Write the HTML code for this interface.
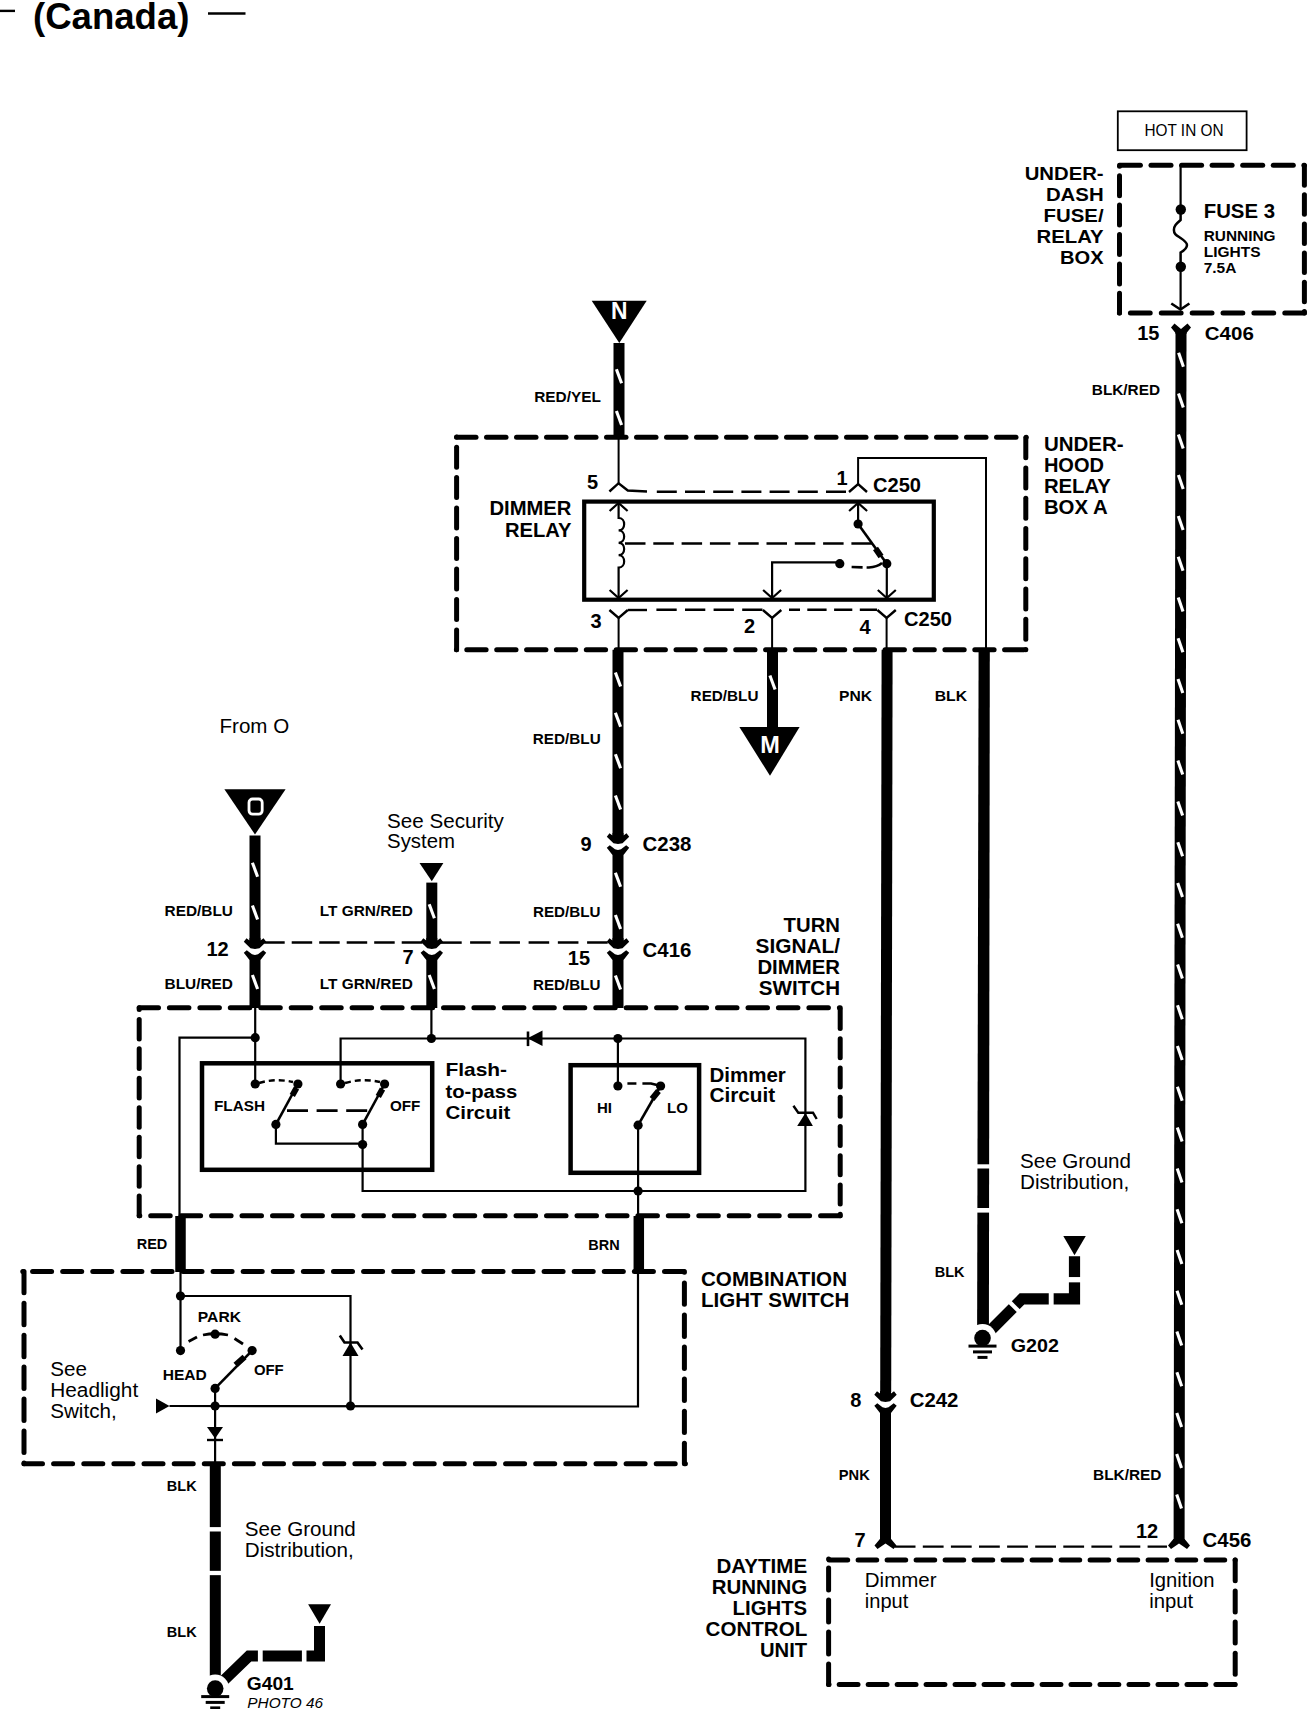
<!DOCTYPE html><html><head><meta charset="utf-8"><style>html,body{margin:0;padding:0;background:#fff;}svg{display:block;font-family:"Liberation Sans",sans-serif;}</style></head><body>
<svg width="1308" height="1709" viewBox="0 0 1308 1709" stroke="#000" fill="none">
<line x1="0" y1="10.9" x2="15" y2="10.9" stroke-width="2.4" />
<text x="33" y="28.8" font-size="36" font-weight="bold" text-anchor="start" fill="#000" stroke="none" textLength="156.5" lengthAdjust="spacingAndGlyphs">(Canada)</text>
<line x1="208" y1="13.5" x2="245.5" y2="13.5" stroke-width="2.4" />
<rect x="1117.8" y="111.3" width="128.79999999999995" height="38.89999999999999" stroke-width="1.8" fill="none" />
<text x="1144.5" y="136.4" font-size="16.2" font-weight="normal" text-anchor="start" fill="#000" stroke="none" textLength="79" lengthAdjust="spacingAndGlyphs">HOT IN ON</text>
<line x1="1120.4" y1="165.2" x2="1140.4" y2="165.2" stroke-width="5" stroke-linecap="round"/>
<line x1="1151.0" y1="165.2" x2="1171.0" y2="165.2" stroke-width="5" stroke-linecap="round"/>
<line x1="1181.6" y1="165.2" x2="1201.6" y2="165.2" stroke-width="5" stroke-linecap="round"/>
<line x1="1212.1" y1="165.2" x2="1232.1" y2="165.2" stroke-width="5" stroke-linecap="round"/>
<line x1="1242.7" y1="165.2" x2="1262.7" y2="165.2" stroke-width="5" stroke-linecap="round"/>
<line x1="1273.3" y1="165.2" x2="1293.3" y2="165.2" stroke-width="5" stroke-linecap="round"/>
<line x1="1303.9" y1="165.2" x2="1304.4" y2="165.2" stroke-width="5" stroke-linecap="round"/>
<line x1="1119.4" y1="313" x2="1119.4" y2="313" stroke-width="5" stroke-linecap="round"/>
<line x1="1130.4" y1="313" x2="1150.2" y2="313" stroke-width="5" stroke-linecap="round"/>
<line x1="1161.3" y1="313" x2="1181.1" y2="313" stroke-width="5" stroke-linecap="round"/>
<line x1="1192.2" y1="313" x2="1212.0" y2="313" stroke-width="5" stroke-linecap="round"/>
<line x1="1223.0" y1="313" x2="1242.8" y2="313" stroke-width="5" stroke-linecap="round"/>
<line x1="1253.9" y1="313" x2="1273.7" y2="313" stroke-width="5" stroke-linecap="round"/>
<line x1="1284.8" y1="313" x2="1304.4" y2="313" stroke-width="5" stroke-linecap="round"/>
<line x1="1119.5" y1="165.2" x2="1119.5" y2="166.3" stroke-width="5" stroke-linecap="round"/>
<line x1="1119.5" y1="175.7" x2="1119.5" y2="195.7" stroke-width="5" stroke-linecap="round"/>
<line x1="1119.5" y1="205.1" x2="1119.5" y2="225.1" stroke-width="5" stroke-linecap="round"/>
<line x1="1119.5" y1="234.5" x2="1119.5" y2="254.5" stroke-width="5" stroke-linecap="round"/>
<line x1="1119.5" y1="263.9" x2="1119.5" y2="283.9" stroke-width="5" stroke-linecap="round"/>
<line x1="1119.5" y1="293.3" x2="1119.5" y2="313.0" stroke-width="5" stroke-linecap="round"/>
<line x1="1304.4" y1="165.7" x2="1304.4" y2="185.2" stroke-width="5" stroke-linecap="round"/>
<line x1="1304.4" y1="194.8" x2="1304.4" y2="214.3" stroke-width="5" stroke-linecap="round"/>
<line x1="1304.4" y1="224.0" x2="1304.4" y2="243.5" stroke-width="5" stroke-linecap="round"/>
<line x1="1304.4" y1="253.1" x2="1304.4" y2="272.6" stroke-width="5" stroke-linecap="round"/>
<line x1="1304.4" y1="282.3" x2="1304.4" y2="301.8" stroke-width="5" stroke-linecap="round"/>
<line x1="1304.4" y1="311.4" x2="1304.4" y2="313.0" stroke-width="5" stroke-linecap="round"/>
<text x="1103.6" y="180.0" font-size="19.2" font-weight="bold" text-anchor="end" fill="#000" stroke="none" textLength="78.9" lengthAdjust="spacingAndGlyphs">UNDER-</text>
<text x="1103.6" y="201.1" font-size="19.2" font-weight="bold" text-anchor="end" fill="#000" stroke="none" textLength="57.7" lengthAdjust="spacingAndGlyphs">DASH</text>
<text x="1103.6" y="222.2" font-size="19.2" font-weight="bold" text-anchor="end" fill="#000" stroke="none" textLength="60" lengthAdjust="spacingAndGlyphs">FUSE/</text>
<text x="1103.6" y="243.3" font-size="19.2" font-weight="bold" text-anchor="end" fill="#000" stroke="none" textLength="67.1" lengthAdjust="spacingAndGlyphs">RELAY</text>
<text x="1103.6" y="264.4" font-size="19.2" font-weight="bold" text-anchor="end" fill="#000" stroke="none" textLength="43.6" lengthAdjust="spacingAndGlyphs">BOX</text>
<line x1="1180.6" y1="165" x2="1180.6" y2="210" stroke-width="2.2" />
<line x1="1180.6" y1="266" x2="1180.6" y2="309" stroke-width="2.2" />
<circle cx="1180.8" cy="209.5" r="5.2" fill="#000" stroke="none"/>
<circle cx="1180.8" cy="266.7" r="5.2" fill="#000" stroke="none"/>
<path d="M1180.6,214 L1180.6,220 C1176,224 1173.9,226 1173.9,230 C1173.9,234 1176,235 1180.6,238 C1185,241 1187,243 1187,245 C1187,248 1185,250 1180.6,252.5 L1180.6,262" stroke-width="2.5" fill="none"/>
<text x="1203.7" y="218.2" font-size="20" font-weight="bold" text-anchor="start" fill="#000" stroke="none" textLength="71.3" lengthAdjust="spacingAndGlyphs">FUSE 3</text>
<text x="1203.7" y="240.8" font-size="15.5" font-weight="bold" text-anchor="start" fill="#000" stroke="none" textLength="71.8" lengthAdjust="spacingAndGlyphs">RUNNING</text>
<text x="1203.7" y="256.6" font-size="15.5" font-weight="bold" text-anchor="start" fill="#000" stroke="none">LIGHTS</text>
<text x="1203.7" y="272.6" font-size="15.5" font-weight="bold" text-anchor="start" fill="#000" stroke="none">7.5A</text>
<polyline points="1171.3,303.5 1180.5,309.5 1189.4,303.5" stroke-width="2.6" fill="none" />
<text x="1137.2" y="339.7" font-size="20" font-weight="bold" text-anchor="start" fill="#000" stroke="none">15</text>
<text x="1204.8" y="340" font-size="19.2" font-weight="bold" text-anchor="start" fill="#000" stroke="none" textLength="49" lengthAdjust="spacingAndGlyphs">C406</text>
<polygon points="1171,327.5 1174.5,323.5 1181,329 1187.5,323.5 1191,327.5 1186.5,333 1186.5,334 1175.5,334 1175.5,333" fill="#000" stroke="none" />
<polygon points="1175.5,332 1186.5,332 1184.6,1540 1173.6,1540" fill="#000" stroke="none" />
<line x1="1178.6" y1="352.8" x2="1183.4" y2="366.8" stroke="#fff" stroke-width="3.1"/>
<line x1="1178.5" y1="393.6" x2="1183.3" y2="407.6" stroke="#fff" stroke-width="3.1"/>
<line x1="1178.4" y1="434.4" x2="1183.2" y2="448.4" stroke="#fff" stroke-width="3.1"/>
<line x1="1178.4" y1="475.1" x2="1183.2" y2="489.1" stroke="#fff" stroke-width="3.1"/>
<line x1="1178.3" y1="515.9" x2="1183.1" y2="529.9" stroke="#fff" stroke-width="3.1"/>
<line x1="1178.2" y1="556.7" x2="1183.0" y2="570.7" stroke="#fff" stroke-width="3.1"/>
<line x1="1178.2" y1="597.5" x2="1183.0" y2="611.5" stroke="#fff" stroke-width="3.1"/>
<line x1="1178.1" y1="638.3" x2="1182.9" y2="652.3" stroke="#fff" stroke-width="3.1"/>
<line x1="1178.0" y1="679.0" x2="1182.8" y2="693.0" stroke="#fff" stroke-width="3.1"/>
<line x1="1178.0" y1="719.8" x2="1182.8" y2="733.8" stroke="#fff" stroke-width="3.1"/>
<line x1="1177.9" y1="760.6" x2="1182.7" y2="774.6" stroke="#fff" stroke-width="3.1"/>
<line x1="1177.8" y1="801.4" x2="1182.6" y2="815.4" stroke="#fff" stroke-width="3.1"/>
<line x1="1177.8" y1="842.2" x2="1182.6" y2="856.2" stroke="#fff" stroke-width="3.1"/>
<line x1="1177.7" y1="882.9" x2="1182.5" y2="896.9" stroke="#fff" stroke-width="3.1"/>
<line x1="1177.6" y1="923.7" x2="1182.4" y2="937.7" stroke="#fff" stroke-width="3.1"/>
<line x1="1177.6" y1="964.5" x2="1182.4" y2="978.5" stroke="#fff" stroke-width="3.1"/>
<line x1="1177.5" y1="1005.3" x2="1182.3" y2="1019.3" stroke="#fff" stroke-width="3.1"/>
<line x1="1177.4" y1="1046.1" x2="1182.2" y2="1060.1" stroke="#fff" stroke-width="3.1"/>
<line x1="1177.4" y1="1086.8" x2="1182.2" y2="1100.8" stroke="#fff" stroke-width="3.1"/>
<line x1="1177.3" y1="1127.6" x2="1182.1" y2="1141.6" stroke="#fff" stroke-width="3.1"/>
<line x1="1177.2" y1="1168.4" x2="1182.0" y2="1182.4" stroke="#fff" stroke-width="3.1"/>
<line x1="1177.1" y1="1209.2" x2="1181.9" y2="1223.2" stroke="#fff" stroke-width="3.1"/>
<line x1="1177.1" y1="1250.0" x2="1181.9" y2="1264.0" stroke="#fff" stroke-width="3.1"/>
<line x1="1177.0" y1="1290.7" x2="1181.8" y2="1304.7" stroke="#fff" stroke-width="3.1"/>
<line x1="1176.9" y1="1331.5" x2="1181.7" y2="1345.5" stroke="#fff" stroke-width="3.1"/>
<line x1="1176.9" y1="1372.3" x2="1181.7" y2="1386.3" stroke="#fff" stroke-width="3.1"/>
<line x1="1176.8" y1="1413.1" x2="1181.6" y2="1427.1" stroke="#fff" stroke-width="3.1"/>
<line x1="1176.7" y1="1453.9" x2="1181.5" y2="1467.9" stroke="#fff" stroke-width="3.1"/>
<line x1="1176.7" y1="1494.6" x2="1181.5" y2="1508.6" stroke="#fff" stroke-width="3.1"/>
<text x="1091.8" y="394.8" font-size="14.5" font-weight="bold" text-anchor="start" fill="#000" stroke="none" textLength="68.2" lengthAdjust="spacingAndGlyphs">BLK/RED</text>
<polygon points="591.7,300.8 646.7,300.8 619.3,343" fill="#000" stroke="none" />
<text x="619.3" y="319.2" font-size="23" font-weight="bold" text-anchor="middle" fill="#fff" stroke="none" textLength="16.5" lengthAdjust="spacingAndGlyphs">N</text>
<rect x="613.5" y="343" width="11" height="94" fill="#000" stroke="none"/>
<line x1="616.4" y1="369.3" x2="621.6" y2="383.3" stroke="#fff" stroke-width="3.1"/>
<line x1="616.4" y1="411" x2="621.6" y2="425" stroke="#fff" stroke-width="3.1"/>
<text x="534.2" y="401.8" font-size="14.7" font-weight="bold" text-anchor="start" fill="#000" stroke="none" textLength="66.8" lengthAdjust="spacingAndGlyphs">RED/YEL</text>
<line x1="456.6" y1="437.3" x2="476.0" y2="437.3" stroke-width="5" stroke-linecap="round"/>
<line x1="486.5" y1="437.3" x2="506.0" y2="437.3" stroke-width="5" stroke-linecap="round"/>
<line x1="516.5" y1="437.3" x2="536.0" y2="437.3" stroke-width="5" stroke-linecap="round"/>
<line x1="546.5" y1="437.3" x2="566.0" y2="437.3" stroke-width="5" stroke-linecap="round"/>
<line x1="576.5" y1="437.3" x2="596.0" y2="437.3" stroke-width="5" stroke-linecap="round"/>
<line x1="606.5" y1="437.3" x2="626.0" y2="437.3" stroke-width="5" stroke-linecap="round"/>
<line x1="636.5" y1="437.3" x2="656.0" y2="437.3" stroke-width="5" stroke-linecap="round"/>
<line x1="666.5" y1="437.3" x2="686.0" y2="437.3" stroke-width="5" stroke-linecap="round"/>
<line x1="696.5" y1="437.3" x2="716.0" y2="437.3" stroke-width="5" stroke-linecap="round"/>
<line x1="726.5" y1="437.3" x2="746.0" y2="437.3" stroke-width="5" stroke-linecap="round"/>
<line x1="756.5" y1="437.3" x2="776.0" y2="437.3" stroke-width="5" stroke-linecap="round"/>
<line x1="786.5" y1="437.3" x2="806.0" y2="437.3" stroke-width="5" stroke-linecap="round"/>
<line x1="816.5" y1="437.3" x2="836.0" y2="437.3" stroke-width="5" stroke-linecap="round"/>
<line x1="846.5" y1="437.3" x2="866.0" y2="437.3" stroke-width="5" stroke-linecap="round"/>
<line x1="876.5" y1="437.3" x2="896.0" y2="437.3" stroke-width="5" stroke-linecap="round"/>
<line x1="906.5" y1="437.3" x2="926.0" y2="437.3" stroke-width="5" stroke-linecap="round"/>
<line x1="936.5" y1="437.3" x2="956.0" y2="437.3" stroke-width="5" stroke-linecap="round"/>
<line x1="966.5" y1="437.3" x2="986.0" y2="437.3" stroke-width="5" stroke-linecap="round"/>
<line x1="996.5" y1="437.3" x2="1016.0" y2="437.3" stroke-width="5" stroke-linecap="round"/>
<line x1="1026.2" y1="437.3" x2="1026.2" y2="437.3" stroke-width="5" stroke-linecap="round"/>
<line x1="456.4" y1="649.8" x2="456.4" y2="649.8" stroke-width="5" stroke-linecap="round"/>
<line x1="466.8" y1="649.8" x2="486.1" y2="649.8" stroke-width="5" stroke-linecap="round"/>
<line x1="496.7" y1="649.8" x2="516.0" y2="649.8" stroke-width="5" stroke-linecap="round"/>
<line x1="526.6" y1="649.8" x2="545.9" y2="649.8" stroke-width="5" stroke-linecap="round"/>
<line x1="556.4" y1="649.8" x2="575.7" y2="649.8" stroke-width="5" stroke-linecap="round"/>
<line x1="586.3" y1="649.8" x2="605.6" y2="649.8" stroke-width="5" stroke-linecap="round"/>
<line x1="616.2" y1="649.8" x2="635.5" y2="649.8" stroke-width="5" stroke-linecap="round"/>
<line x1="646.1" y1="649.8" x2="665.4" y2="649.8" stroke-width="5" stroke-linecap="round"/>
<line x1="676.0" y1="649.8" x2="695.3" y2="649.8" stroke-width="5" stroke-linecap="round"/>
<line x1="705.8" y1="649.8" x2="725.1" y2="649.8" stroke-width="5" stroke-linecap="round"/>
<line x1="735.7" y1="649.8" x2="755.0" y2="649.8" stroke-width="5" stroke-linecap="round"/>
<line x1="765.6" y1="649.8" x2="784.9" y2="649.8" stroke-width="5" stroke-linecap="round"/>
<line x1="795.5" y1="649.8" x2="814.8" y2="649.8" stroke-width="5" stroke-linecap="round"/>
<line x1="825.4" y1="649.8" x2="844.7" y2="649.8" stroke-width="5" stroke-linecap="round"/>
<line x1="855.2" y1="649.8" x2="874.5" y2="649.8" stroke-width="5" stroke-linecap="round"/>
<line x1="885.1" y1="649.8" x2="904.4" y2="649.8" stroke-width="5" stroke-linecap="round"/>
<line x1="915.0" y1="649.8" x2="934.3" y2="649.8" stroke-width="5" stroke-linecap="round"/>
<line x1="944.9" y1="649.8" x2="964.2" y2="649.8" stroke-width="5" stroke-linecap="round"/>
<line x1="974.8" y1="649.8" x2="994.1" y2="649.8" stroke-width="5" stroke-linecap="round"/>
<line x1="1004.6" y1="649.8" x2="1023.9" y2="649.8" stroke-width="5" stroke-linecap="round"/>
<line x1="456.6" y1="437.0" x2="456.6" y2="437.0" stroke-width="5" stroke-linecap="round"/>
<line x1="456.6" y1="447.2" x2="456.6" y2="467.2" stroke-width="5" stroke-linecap="round"/>
<line x1="456.6" y1="477.6" x2="456.6" y2="497.6" stroke-width="5" stroke-linecap="round"/>
<line x1="456.6" y1="508.1" x2="456.6" y2="528.1" stroke-width="5" stroke-linecap="round"/>
<line x1="456.6" y1="538.5" x2="456.6" y2="558.5" stroke-width="5" stroke-linecap="round"/>
<line x1="456.6" y1="569.0" x2="456.6" y2="589.0" stroke-width="5" stroke-linecap="round"/>
<line x1="456.6" y1="599.5" x2="456.6" y2="619.5" stroke-width="5" stroke-linecap="round"/>
<line x1="456.6" y1="629.9" x2="456.6" y2="649.8" stroke-width="5" stroke-linecap="round"/>
<line x1="1025.8" y1="437.8" x2="1025.8" y2="457.8" stroke-width="5" stroke-linecap="round"/>
<line x1="1025.8" y1="468.1" x2="1025.8" y2="488.1" stroke-width="5" stroke-linecap="round"/>
<line x1="1025.8" y1="498.3" x2="1025.8" y2="518.3" stroke-width="5" stroke-linecap="round"/>
<line x1="1025.8" y1="528.5" x2="1025.8" y2="548.5" stroke-width="5" stroke-linecap="round"/>
<line x1="1025.8" y1="558.8" x2="1025.8" y2="578.8" stroke-width="5" stroke-linecap="round"/>
<line x1="1025.8" y1="589.0" x2="1025.8" y2="609.0" stroke-width="5" stroke-linecap="round"/>
<line x1="1025.8" y1="619.3" x2="1025.8" y2="639.3" stroke-width="5" stroke-linecap="round"/>
<line x1="1025.8" y1="649.5" x2="1025.8" y2="649.8" stroke-width="5" stroke-linecap="round"/>
<text x="1043.9" y="451.2" font-size="19.8" font-weight="bold" text-anchor="start" fill="#000" stroke="none" textLength="79.8" lengthAdjust="spacingAndGlyphs">UNDER-</text>
<text x="1043.9" y="472.2" font-size="19.8" font-weight="bold" text-anchor="start" fill="#000" stroke="none" textLength="60.1" lengthAdjust="spacingAndGlyphs">HOOD</text>
<text x="1043.9" y="493.2" font-size="19.8" font-weight="bold" text-anchor="start" fill="#000" stroke="none" textLength="67" lengthAdjust="spacingAndGlyphs">RELAY</text>
<text x="1043.9" y="514.2" font-size="19.8" font-weight="bold" text-anchor="start" fill="#000" stroke="none" textLength="63.8" lengthAdjust="spacingAndGlyphs">BOX A</text>
<rect x="584.2" y="501.6" width="349.5999999999999" height="98.10000000000002" stroke-width="4.2" fill="none" />
<text x="571.5" y="515" font-size="19.5" font-weight="bold" text-anchor="end" fill="#000" stroke="none" textLength="82.1" lengthAdjust="spacingAndGlyphs">DIMMER</text>
<text x="571.5" y="536.6" font-size="19.5" font-weight="bold" text-anchor="end" fill="#000" stroke="none" textLength="66.5" lengthAdjust="spacingAndGlyphs">RELAY</text>
<line x1="618.6" y1="437" x2="618.6" y2="483" stroke-width="2" />
<polyline points="609.4,491.5 618.6,483.2 627.8,490.5 647,491.5" stroke-width="2.4" fill="none" />
<line x1="656.8" y1="491.7" x2="848" y2="491.7" stroke-width="2.6" stroke-dasharray="20 8.2" stroke-linecap="butt"/>
<text x="587" y="488.5" font-size="20" font-weight="bold" text-anchor="start" fill="#000" stroke="none">5</text>
<polyline points="849,492 858.1,484 867,492" stroke-width="2.4" fill="none" />
<polyline points="858.1,484 858.1,458 986,458 986,649.8" stroke-width="2" fill="none" />
<text x="836.5" y="485" font-size="20" font-weight="bold" text-anchor="start" fill="#000" stroke="none">1</text>
<text x="873" y="492" font-size="20" font-weight="bold" text-anchor="start" fill="#000" stroke="none" textLength="48" lengthAdjust="spacingAndGlyphs">C250</text>
<polyline points="609.6,511 618.6,503 627.6,511" stroke-width="2.2" fill="none" />
<path d="M618.6,503 L618.6,518 C626,518 626,530.4 618.6,530.4 C626,530.4 626,542.8 618.6,542.8 C626,542.8 626,555.2 618.6,555.2 C626,555.2 626,567.6 618.6,567.6 L618.6,598" stroke-width="2.2" fill="none"/>
<polyline points="609.6,590 618.6,598 627.6,590" stroke-width="2.2" fill="none" />
<line x1="625" y1="543.5" x2="872" y2="543.5" stroke-width="2.4" stroke-dasharray="20.5 7.8" stroke-linecap="butt"/>
<polyline points="849.1,511 858.1,503 867.1,511" stroke-width="2.2" fill="none" />
<line x1="858.1" y1="503" x2="858.1" y2="524" stroke-width="2.2" />
<circle cx="858.1" cy="524" r="4.6" fill="#000" stroke="none"/>
<line x1="858.1" y1="524" x2="886.8" y2="563.7" stroke-width="2.6" />
<line x1="875.5" y1="548.5" x2="881" y2="556.5" stroke-width="6" />
<circle cx="886.8" cy="563.7" r="4.6" fill="#000" stroke="none"/>
<circle cx="839.8" cy="563.7" r="4.6" fill="#000" stroke="none"/>
<polyline points="839.8,562.3 772.1,562.3 772.1,598" stroke-width="2.2" fill="none" />
<path d="M844,565 L849,567 L869,567.5 Q877,567 882,563" stroke-width="2.6" stroke-dasharray="0 8 11 4 20" fill="none"/>
<line x1="886.8" y1="563.7" x2="886.8" y2="598" stroke-width="2.2" />
<polyline points="763.1,590 772.1,598 781.1,590" stroke-width="2.2" fill="none" />
<polyline points="877.8,590 886.8,598 895.8,590" stroke-width="2.2" fill="none" />
<polyline points="609.4,610 618.6,618 627.8000000000001,610" stroke-width="2.4" fill="none" />
<line x1="618.6" y1="618" x2="618.6" y2="649.8" stroke-width="2" />
<polyline points="762.9,610 772.1,618 781.3000000000001,610" stroke-width="2.4" fill="none" />
<line x1="772.1" y1="618" x2="772.1" y2="649.8" stroke-width="2" />
<polyline points="877.4,610 886.6,618 895.8000000000001,610" stroke-width="2.4" fill="none" />
<line x1="886.6" y1="618" x2="886.6" y2="649.8" stroke-width="2" />
<line x1="627.8" y1="610" x2="647" y2="610" stroke-width="2.4" />
<line x1="656.4" y1="609.7" x2="764" y2="609.7" stroke-width="2.6" stroke-dasharray="20.3 8.3" stroke-linecap="butt"/>
<line x1="789" y1="609.7" x2="877" y2="609.7" stroke-width="2.6" stroke-dasharray="11 7.3 19.3 7.5 18.2 7.5 17.2 30" stroke-linecap="butt"/>
<text x="590.5" y="627.5" font-size="20" font-weight="bold" text-anchor="start" fill="#000" stroke="none">3</text>
<text x="744" y="633" font-size="20" font-weight="bold" text-anchor="start" fill="#000" stroke="none">2</text>
<text x="859.5" y="633.5" font-size="20" font-weight="bold" text-anchor="start" fill="#000" stroke="none">4</text>
<text x="904" y="626" font-size="20" font-weight="bold" text-anchor="start" fill="#000" stroke="none" textLength="48" lengthAdjust="spacingAndGlyphs">C250</text>
<rect x="612.5" y="649.8" width="11" height="188.20000000000005" fill="#000" stroke="none"/>
<line x1="615.4" y1="672.5" x2="620.6" y2="686.5" stroke="#fff" stroke-width="3.1"/>
<line x1="615.4" y1="712.8" x2="620.6" y2="726.8" stroke="#fff" stroke-width="3.1"/>
<line x1="615.4" y1="754.2" x2="620.6" y2="768.2" stroke="#fff" stroke-width="3.1"/>
<line x1="615.4" y1="795.5" x2="620.6" y2="809.5" stroke="#fff" stroke-width="3.1"/>
<rect x="767.0" y="649.8" width="11" height="77.20000000000005" fill="#000" stroke="none"/>
<line x1="769.9" y1="675.5" x2="775.1" y2="689.5" stroke="#fff" stroke-width="3.1"/>
<polygon points="739.4,727 799.6,727 770,775.8" fill="#000" stroke="none" />
<text x="770" y="753" font-size="23.5" font-weight="bold" text-anchor="middle" fill="#fff" stroke="none">M</text>
<polygon points="881.6,649.8 892.6,649.8 891.2,1392 880.2,1392" fill="#000" stroke="none" />
<polygon points="978.6,649.8 989.8,649.8 988.9,1338 977.1,1338" fill="#000" stroke="none" />
<text x="690.6" y="701.3" font-size="14.7" font-weight="bold" text-anchor="start" fill="#000" stroke="none" textLength="67.9" lengthAdjust="spacingAndGlyphs">RED/BLU</text>
<text x="839" y="701.3" font-size="14.7" font-weight="bold" text-anchor="start" fill="#000" stroke="none" textLength="33" lengthAdjust="spacingAndGlyphs">PNK</text>
<text x="934.7" y="701.3" font-size="14.7" font-weight="bold" text-anchor="start" fill="#000" stroke="none" textLength="32.3" lengthAdjust="spacingAndGlyphs">BLK</text>
<text x="532.8" y="743.5" font-size="14.7" font-weight="bold" text-anchor="start" fill="#000" stroke="none" textLength="67.9" lengthAdjust="spacingAndGlyphs">RED/BLU</text>
<polygon points="612.5,833 612.5,835.5 609.5,833.2 606.8,836.8 613.5,843.2 618,844.0 622.5,843.2 629.2,836.8 626.5,833.2 623.5,835.5 623.5,833" fill="#000" stroke="none" />
<polygon points="606.8,847.8 609.8,845.2 615,849.2 618,850 621,849.2 626.2,845.2 629.2,847.8 623.5,855 623.5,857 612.5,857 612.5,855" fill="#000" stroke="none" />
<rect x="612.5" y="857" width="11" height="87" fill="#000" stroke="none"/>
<line x1="615.4" y1="872.7" x2="620.6" y2="886.7" stroke="#fff" stroke-width="3.1"/>
<line x1="615.4" y1="915" x2="620.6" y2="929" stroke="#fff" stroke-width="3.1"/>
<text x="580.5" y="851" font-size="20" font-weight="bold" text-anchor="start" fill="#000" stroke="none">9</text>
<text x="642.6" y="851" font-size="19.5" font-weight="bold" text-anchor="start" fill="#000" stroke="none" textLength="48.7" lengthAdjust="spacingAndGlyphs">C238</text>
<text x="219.5" y="733" font-size="20.5" font-weight="normal" text-anchor="start" fill="#000" stroke="none" textLength="69.7" lengthAdjust="spacingAndGlyphs">From O</text>
<polygon points="224.4,789.3 285.6,789.3 255,834.6" fill="#000" stroke="none" />
<rect x="249" y="799" width="13.2" height="15.2" rx="3.6" stroke="#fff" stroke-width="2.8" fill="none"/>
<rect x="249.5" y="835.5" width="11" height="108.5" fill="#000" stroke="none"/>
<line x1="252.4" y1="862.7" x2="257.6" y2="876.7" stroke="#fff" stroke-width="3.1"/>
<line x1="252.4" y1="905.5" x2="257.6" y2="919.5" stroke="#fff" stroke-width="3.1"/>
<text x="387.1" y="827.5" font-size="20" font-weight="normal" text-anchor="start" fill="#000" stroke="none" textLength="116.8" lengthAdjust="spacingAndGlyphs">See Security</text>
<text x="387.1" y="848.3" font-size="20" font-weight="normal" text-anchor="start" fill="#000" stroke="none" textLength="67.9" lengthAdjust="spacingAndGlyphs">System</text>
<polygon points="419.5,863 443.4,863 431.8,881.3" fill="#000" stroke="none" />
<rect x="426.3" y="882.6" width="11" height="61.39999999999998" fill="#000" stroke="none"/>
<line x1="429.2" y1="904.3" x2="434.40000000000003" y2="918.3" stroke="#fff" stroke-width="3.1"/>
<text x="164.5" y="915.9" font-size="14.7" font-weight="bold" text-anchor="start" fill="#000" stroke="none" textLength="68.5" lengthAdjust="spacingAndGlyphs">RED/BLU</text>
<text x="319.8" y="915.9" font-size="14.7" font-weight="bold" text-anchor="start" fill="#000" stroke="none" textLength="93" lengthAdjust="spacingAndGlyphs">LT GRN/RED</text>
<text x="533" y="917" font-size="14.7" font-weight="bold" text-anchor="start" fill="#000" stroke="none" textLength="67.5" lengthAdjust="spacingAndGlyphs">RED/BLU</text>
<polygon points="249.5,938 249.5,940.5 246.5,938.2 243.8,941.8 250.5,948.2 255,949.0 259.5,948.2 266.2,941.8 263.5,938.2 260.5,940.5 260.5,938" fill="#000" stroke="none" />
<polygon points="243.8,952.8 246.8,950.2 252,954.2 255,955 258,954.2 263.2,950.2 266.2,952.8 260.5,960 260.5,962 249.5,962 249.5,960" fill="#000" stroke="none" />
<polygon points="426.3,938 426.3,940.5 423.3,938.2 420.6,941.8 427.3,948.2 431.8,949.0 436.3,948.2 443.0,941.8 440.3,938.2 437.3,940.5 437.3,938" fill="#000" stroke="none" />
<polygon points="420.6,952.8 423.6,950.2 428.8,954.2 431.8,955 434.8,954.2 440.0,950.2 443.0,952.8 437.3,960 437.3,962 426.3,962 426.3,960" fill="#000" stroke="none" />
<polygon points="612.5,938 612.5,940.5 609.5,938.2 606.8,941.8 613.5,948.2 618,949.0 622.5,948.2 629.2,941.8 626.5,938.2 623.5,940.5 623.5,938" fill="#000" stroke="none" />
<polygon points="606.8,952.8 609.8,950.2 615,954.2 618,955 621,954.2 626.2,950.2 629.2,952.8 623.5,960 623.5,962 612.5,962 612.5,960" fill="#000" stroke="none" />
<line x1="264.2" y1="942.6" x2="423" y2="942.6" stroke-width="2.5" stroke-dasharray="20.5 7" stroke-linecap="butt"/>
<line x1="440.3" y1="942.6" x2="461.7" y2="942.6" stroke-width="2.5" />
<line x1="470.1" y1="942.6" x2="607.7" y2="942.6" stroke-width="2.5" stroke-dasharray="20.6 8.65" stroke-linecap="butt"/>
<text x="206.5" y="956" font-size="20" font-weight="bold" text-anchor="start" fill="#000" stroke="none">12</text>
<text x="402.5" y="964" font-size="20" font-weight="bold" text-anchor="start" fill="#000" stroke="none">7</text>
<text x="567.8" y="965" font-size="20" font-weight="bold" text-anchor="start" fill="#000" stroke="none">15</text>
<text x="642.6" y="957" font-size="19.5" font-weight="bold" text-anchor="start" fill="#000" stroke="none" textLength="48.7" lengthAdjust="spacingAndGlyphs">C416</text>
<text x="164.5" y="989.3" font-size="14.7" font-weight="bold" text-anchor="start" fill="#000" stroke="none" textLength="68.5" lengthAdjust="spacingAndGlyphs">BLU/RED</text>
<text x="319.8" y="989.3" font-size="14.7" font-weight="bold" text-anchor="start" fill="#000" stroke="none" textLength="93" lengthAdjust="spacingAndGlyphs">LT GRN/RED</text>
<text x="533" y="990" font-size="14.7" font-weight="bold" text-anchor="start" fill="#000" stroke="none" textLength="67.5" lengthAdjust="spacingAndGlyphs">RED/BLU</text>
<rect x="249.5" y="962" width="11" height="46" fill="#000" stroke="none"/>
<rect x="426.3" y="962" width="11" height="46" fill="#000" stroke="none"/>
<rect x="612.5" y="962" width="11" height="46" fill="#000" stroke="none"/>
<line x1="252.4" y1="975" x2="257.6" y2="989" stroke="#fff" stroke-width="3.1"/>
<line x1="429.2" y1="975" x2="434.40000000000003" y2="989" stroke="#fff" stroke-width="3.1"/>
<line x1="615.4" y1="975.5" x2="620.6" y2="989.5" stroke="#fff" stroke-width="3.1"/>
<text x="840" y="932.0" font-size="19.5" font-weight="bold" text-anchor="end" fill="#000" stroke="none" textLength="56.4" lengthAdjust="spacingAndGlyphs">TURN</text>
<text x="840" y="953.1" font-size="19.5" font-weight="bold" text-anchor="end" fill="#000" stroke="none" textLength="84.5" lengthAdjust="spacingAndGlyphs">SIGNAL/</text>
<text x="840" y="974.2" font-size="19.5" font-weight="bold" text-anchor="end" fill="#000" stroke="none" textLength="82.6" lengthAdjust="spacingAndGlyphs">DIMMER</text>
<text x="840" y="995.3" font-size="19.5" font-weight="bold" text-anchor="end" fill="#000" stroke="none" textLength="81.2" lengthAdjust="spacingAndGlyphs">SWITCH</text>
<line x1="139.2" y1="1007.8" x2="158.5" y2="1007.8" stroke-width="5" stroke-linecap="round"/>
<line x1="169.4" y1="1007.8" x2="188.9" y2="1007.8" stroke-width="5" stroke-linecap="round"/>
<line x1="199.9" y1="1007.8" x2="219.4" y2="1007.8" stroke-width="5" stroke-linecap="round"/>
<line x1="230.3" y1="1007.8" x2="249.8" y2="1007.8" stroke-width="5" stroke-linecap="round"/>
<line x1="260.8" y1="1007.8" x2="280.3" y2="1007.8" stroke-width="5" stroke-linecap="round"/>
<line x1="291.2" y1="1007.8" x2="310.8" y2="1007.8" stroke-width="5" stroke-linecap="round"/>
<line x1="321.7" y1="1007.8" x2="341.2" y2="1007.8" stroke-width="5" stroke-linecap="round"/>
<line x1="352.1" y1="1007.8" x2="371.6" y2="1007.8" stroke-width="5" stroke-linecap="round"/>
<line x1="382.6" y1="1007.8" x2="402.1" y2="1007.8" stroke-width="5" stroke-linecap="round"/>
<line x1="413.1" y1="1007.8" x2="432.6" y2="1007.8" stroke-width="5" stroke-linecap="round"/>
<line x1="443.5" y1="1007.8" x2="463.0" y2="1007.8" stroke-width="5" stroke-linecap="round"/>
<line x1="473.9" y1="1007.8" x2="493.4" y2="1007.8" stroke-width="5" stroke-linecap="round"/>
<line x1="504.4" y1="1007.8" x2="523.9" y2="1007.8" stroke-width="5" stroke-linecap="round"/>
<line x1="534.8" y1="1007.8" x2="554.3" y2="1007.8" stroke-width="5" stroke-linecap="round"/>
<line x1="565.3" y1="1007.8" x2="584.8" y2="1007.8" stroke-width="5" stroke-linecap="round"/>
<line x1="595.8" y1="1007.8" x2="615.2" y2="1007.8" stroke-width="5" stroke-linecap="round"/>
<line x1="626.2" y1="1007.8" x2="645.7" y2="1007.8" stroke-width="5" stroke-linecap="round"/>
<line x1="656.6" y1="1007.8" x2="676.1" y2="1007.8" stroke-width="5" stroke-linecap="round"/>
<line x1="687.1" y1="1007.8" x2="706.6" y2="1007.8" stroke-width="5" stroke-linecap="round"/>
<line x1="717.5" y1="1007.8" x2="737.0" y2="1007.8" stroke-width="5" stroke-linecap="round"/>
<line x1="748.0" y1="1007.8" x2="767.5" y2="1007.8" stroke-width="5" stroke-linecap="round"/>
<line x1="778.4" y1="1007.8" x2="797.9" y2="1007.8" stroke-width="5" stroke-linecap="round"/>
<line x1="808.9" y1="1007.8" x2="828.4" y2="1007.8" stroke-width="5" stroke-linecap="round"/>
<line x1="839.4" y1="1007.8" x2="840.2" y2="1007.8" stroke-width="5" stroke-linecap="round"/>
<line x1="139.2" y1="1215.8" x2="139.8" y2="1215.8" stroke-width="5" stroke-linecap="round"/>
<line x1="150.7" y1="1215.8" x2="170.2" y2="1215.8" stroke-width="5" stroke-linecap="round"/>
<line x1="181.1" y1="1215.8" x2="200.6" y2="1215.8" stroke-width="5" stroke-linecap="round"/>
<line x1="211.6" y1="1215.8" x2="231.1" y2="1215.8" stroke-width="5" stroke-linecap="round"/>
<line x1="242.0" y1="1215.8" x2="261.5" y2="1215.8" stroke-width="5" stroke-linecap="round"/>
<line x1="272.5" y1="1215.8" x2="292.0" y2="1215.8" stroke-width="5" stroke-linecap="round"/>
<line x1="302.9" y1="1215.8" x2="322.4" y2="1215.8" stroke-width="5" stroke-linecap="round"/>
<line x1="333.4" y1="1215.8" x2="352.9" y2="1215.8" stroke-width="5" stroke-linecap="round"/>
<line x1="363.9" y1="1215.8" x2="383.4" y2="1215.8" stroke-width="5" stroke-linecap="round"/>
<line x1="394.3" y1="1215.8" x2="413.8" y2="1215.8" stroke-width="5" stroke-linecap="round"/>
<line x1="424.8" y1="1215.8" x2="444.2" y2="1215.8" stroke-width="5" stroke-linecap="round"/>
<line x1="455.2" y1="1215.8" x2="474.7" y2="1215.8" stroke-width="5" stroke-linecap="round"/>
<line x1="485.6" y1="1215.8" x2="505.1" y2="1215.8" stroke-width="5" stroke-linecap="round"/>
<line x1="516.1" y1="1215.8" x2="535.6" y2="1215.8" stroke-width="5" stroke-linecap="round"/>
<line x1="546.5" y1="1215.8" x2="566.0" y2="1215.8" stroke-width="5" stroke-linecap="round"/>
<line x1="577.0" y1="1215.8" x2="596.5" y2="1215.8" stroke-width="5" stroke-linecap="round"/>
<line x1="607.5" y1="1215.8" x2="627.0" y2="1215.8" stroke-width="5" stroke-linecap="round"/>
<line x1="637.9" y1="1215.8" x2="657.4" y2="1215.8" stroke-width="5" stroke-linecap="round"/>
<line x1="668.3" y1="1215.8" x2="687.8" y2="1215.8" stroke-width="5" stroke-linecap="round"/>
<line x1="698.8" y1="1215.8" x2="718.3" y2="1215.8" stroke-width="5" stroke-linecap="round"/>
<line x1="729.2" y1="1215.8" x2="748.8" y2="1215.8" stroke-width="5" stroke-linecap="round"/>
<line x1="759.7" y1="1215.8" x2="779.2" y2="1215.8" stroke-width="5" stroke-linecap="round"/>
<line x1="790.1" y1="1215.8" x2="809.6" y2="1215.8" stroke-width="5" stroke-linecap="round"/>
<line x1="820.6" y1="1215.8" x2="840.1" y2="1215.8" stroke-width="5" stroke-linecap="round"/>
<line x1="139.2" y1="1007.8" x2="139.2" y2="1009.5" stroke-width="5" stroke-linecap="round"/>
<line x1="139.2" y1="1019.4" x2="139.2" y2="1039.0" stroke-width="5" stroke-linecap="round"/>
<line x1="139.2" y1="1048.8" x2="139.2" y2="1068.4" stroke-width="5" stroke-linecap="round"/>
<line x1="139.2" y1="1078.3" x2="139.2" y2="1097.9" stroke-width="5" stroke-linecap="round"/>
<line x1="139.2" y1="1107.8" x2="139.2" y2="1127.3" stroke-width="5" stroke-linecap="round"/>
<line x1="139.2" y1="1137.2" x2="139.2" y2="1156.8" stroke-width="5" stroke-linecap="round"/>
<line x1="139.2" y1="1166.7" x2="139.2" y2="1186.2" stroke-width="5" stroke-linecap="round"/>
<line x1="139.2" y1="1196.1" x2="139.2" y2="1215.7" stroke-width="5" stroke-linecap="round"/>
<line x1="840.2" y1="1009.6" x2="840.2" y2="1028.6" stroke-width="5" stroke-linecap="round"/>
<line x1="840.2" y1="1038.8" x2="840.2" y2="1057.8" stroke-width="5" stroke-linecap="round"/>
<line x1="840.2" y1="1068.1" x2="840.2" y2="1087.1" stroke-width="5" stroke-linecap="round"/>
<line x1="840.2" y1="1097.3" x2="840.2" y2="1116.3" stroke-width="5" stroke-linecap="round"/>
<line x1="840.2" y1="1126.5" x2="840.2" y2="1145.5" stroke-width="5" stroke-linecap="round"/>
<line x1="840.2" y1="1155.8" x2="840.2" y2="1174.8" stroke-width="5" stroke-linecap="round"/>
<line x1="840.2" y1="1185.0" x2="840.2" y2="1204.0" stroke-width="5" stroke-linecap="round"/>
<line x1="840.2" y1="1214.2" x2="840.2" y2="1215.8" stroke-width="5" stroke-linecap="round"/>
<rect x="202" y="1063.3" width="230.2" height="106.5" stroke-width="4.5" fill="none" />
<rect x="570.6" y="1065.2" width="128.5" height="107.59999999999991" stroke-width="4.5" fill="none" />
<line x1="255.2" y1="1008" x2="255.2" y2="1084" stroke-width="2.2" />
<circle cx="255.2" cy="1037.7" r="4.6" fill="#000" stroke="none"/>
<polyline points="255.2,1037.7 179.5,1037.7 179.5,1216" stroke-width="2.2" fill="none" />
<line x1="431.4" y1="1008" x2="431.4" y2="1038.5" stroke-width="2.2" />
<circle cx="431.4" cy="1038.5" r="4.6" fill="#000" stroke="none"/>
<polyline points="431.4,1038.5 340.6,1038.5 340.6,1084" stroke-width="2.2" fill="none" />
<polyline points="431.4,1038.5 805.4,1038.5 805.4,1191 362.6,1191 362.6,1124.4" stroke-width="2.2" fill="none" />
<polygon points="527.5,1038.3 542.5,1030.5 542.5,1046.1" fill="#000" stroke="none" />
<line x1="528" y1="1031.5" x2="528" y2="1046.1" stroke-width="2.6" />
<polygon points="805.4,1113 797.2,1126 812.9,1126" fill="#000" stroke="none" />
<polyline points="793.4,1105.7 798.3,1112.7 813,1112.7 816.7,1119" stroke-width="2.4" fill="none" />
<circle cx="255.2" cy="1084" r="4.6" fill="#000" stroke="none"/>
<circle cx="297.9" cy="1084" r="4.6" fill="#000" stroke="none"/>
<path d="M259,1083 Q276,1078 293,1082" stroke-width="2.4" stroke-dasharray="6 4" fill="none"/>
<line x1="297.9" y1="1084" x2="275.9" y2="1124.4" stroke-width="2.6" />
<line x1="292.3" y1="1095.4" x2="296.5" y2="1088" stroke-width="6" />
<circle cx="275.9" cy="1124.4" r="4.6" fill="#000" stroke="none"/>
<circle cx="340.6" cy="1084" r="4.6" fill="#000" stroke="none"/>
<circle cx="384.6" cy="1084" r="4.6" fill="#000" stroke="none"/>
<path d="M345,1083 Q362,1078 380,1082" stroke-width="2.4" stroke-dasharray="6 4" fill="none"/>
<line x1="384.6" y1="1084" x2="362.6" y2="1124.4" stroke-width="2.6" />
<line x1="378.3" y1="1096.4" x2="382.5" y2="1089" stroke-width="6" />
<circle cx="362.6" cy="1124.4" r="4.6" fill="#000" stroke="none"/>
<line x1="287" y1="1110.6" x2="369.5" y2="1110.6" stroke-width="2.6" stroke-dasharray="21 8.6" stroke-linecap="butt"/>
<polyline points="275.9,1124.4 275.9,1143.7 362.6,1143.7" stroke-width="2.2" fill="none" />
<circle cx="362.6" cy="1144.5" r="4.6" fill="#000" stroke="none"/>
<text x="214" y="1110.5" font-size="15.4" font-weight="bold" text-anchor="start" fill="#000" stroke="none" textLength="51" lengthAdjust="spacingAndGlyphs">FLASH</text>
<text x="390" y="1110.5" font-size="15.4" font-weight="bold" text-anchor="start" fill="#000" stroke="none" textLength="30.4" lengthAdjust="spacingAndGlyphs">OFF</text>
<text x="445.4" y="1076.4" font-size="19" font-weight="bold" text-anchor="start" fill="#000" stroke="none" textLength="61.7" lengthAdjust="spacingAndGlyphs">Flash-</text>
<text x="445.4" y="1097.6000000000001" font-size="19" font-weight="bold" text-anchor="start" fill="#000" stroke="none" textLength="72" lengthAdjust="spacingAndGlyphs">to-pass</text>
<text x="445.4" y="1118.8000000000002" font-size="19" font-weight="bold" text-anchor="start" fill="#000" stroke="none" textLength="64.9" lengthAdjust="spacingAndGlyphs">Circuit</text>
<line x1="617.9" y1="1038.5" x2="617.9" y2="1086" stroke-width="2.2" />
<circle cx="617.9" cy="1038.5" r="4.6" fill="#000" stroke="none"/>
<circle cx="617.9" cy="1086" r="4.6" fill="#000" stroke="none"/>
<circle cx="660.6" cy="1086" r="4.6" fill="#000" stroke="none"/>
<path d="M621,1086 L626,1083.5 L651,1083.5 L657,1085" stroke-width="2.6" stroke-dasharray="0 7 9 6 30" fill="none"/>
<line x1="660.6" y1="1086" x2="638.1" y2="1125.2" stroke-width="2.6" />
<line x1="652" y1="1099" x2="658.5" y2="1091" stroke-width="6" />
<circle cx="638.1" cy="1125.2" r="4.6" fill="#000" stroke="none"/>
<line x1="638.1" y1="1125.2" x2="638.1" y2="1216" stroke-width="2.2" />
<circle cx="638.1" cy="1191" r="4.6" fill="#000" stroke="none"/>
<text x="597" y="1112.5" font-size="15" font-weight="bold" text-anchor="start" fill="#000" stroke="none">HI</text>
<text x="667" y="1112.5" font-size="15" font-weight="bold" text-anchor="start" fill="#000" stroke="none">LO</text>
<text x="709.4" y="1081.5" font-size="20" font-weight="bold" text-anchor="start" fill="#000" stroke="none" textLength="76.4" lengthAdjust="spacingAndGlyphs">Dimmer</text>
<text x="709.4" y="1101.8" font-size="20" font-weight="bold" text-anchor="start" fill="#000" stroke="none" textLength="65.8" lengthAdjust="spacingAndGlyphs">Circuit</text>
<rect x="175.25" y="1216" width="10.5" height="56" fill="#000" stroke="none"/>
<rect x="633.55" y="1216" width="10.5" height="56" fill="#000" stroke="none"/>
<text x="136.7" y="1249.3" font-size="14.5" font-weight="bold" text-anchor="start" fill="#000" stroke="none">RED</text>
<text x="588.3" y="1250.2" font-size="14.5" font-weight="bold" text-anchor="start" fill="#000" stroke="none">BRN</text>
<line x1="22.8" y1="1271.6" x2="22.8" y2="1271.6" stroke-width="5" stroke-linecap="round"/>
<line x1="32.6" y1="1271.6" x2="51.6" y2="1271.6" stroke-width="5" stroke-linecap="round"/>
<line x1="62.7" y1="1271.6" x2="81.7" y2="1271.6" stroke-width="5" stroke-linecap="round"/>
<line x1="92.8" y1="1271.6" x2="111.8" y2="1271.6" stroke-width="5" stroke-linecap="round"/>
<line x1="122.9" y1="1271.6" x2="141.9" y2="1271.6" stroke-width="5" stroke-linecap="round"/>
<line x1="153.0" y1="1271.6" x2="172.0" y2="1271.6" stroke-width="5" stroke-linecap="round"/>
<line x1="183.0" y1="1271.6" x2="202.0" y2="1271.6" stroke-width="5" stroke-linecap="round"/>
<line x1="213.1" y1="1271.6" x2="232.1" y2="1271.6" stroke-width="5" stroke-linecap="round"/>
<line x1="243.2" y1="1271.6" x2="262.2" y2="1271.6" stroke-width="5" stroke-linecap="round"/>
<line x1="273.3" y1="1271.6" x2="292.3" y2="1271.6" stroke-width="5" stroke-linecap="round"/>
<line x1="303.4" y1="1271.6" x2="322.4" y2="1271.6" stroke-width="5" stroke-linecap="round"/>
<line x1="333.5" y1="1271.6" x2="352.5" y2="1271.6" stroke-width="5" stroke-linecap="round"/>
<line x1="363.6" y1="1271.6" x2="382.6" y2="1271.6" stroke-width="5" stroke-linecap="round"/>
<line x1="393.7" y1="1271.6" x2="412.7" y2="1271.6" stroke-width="5" stroke-linecap="round"/>
<line x1="423.8" y1="1271.6" x2="442.8" y2="1271.6" stroke-width="5" stroke-linecap="round"/>
<line x1="453.9" y1="1271.6" x2="472.9" y2="1271.6" stroke-width="5" stroke-linecap="round"/>
<line x1="484.0" y1="1271.6" x2="503.0" y2="1271.6" stroke-width="5" stroke-linecap="round"/>
<line x1="514.0" y1="1271.6" x2="533.0" y2="1271.6" stroke-width="5" stroke-linecap="round"/>
<line x1="544.1" y1="1271.6" x2="563.1" y2="1271.6" stroke-width="5" stroke-linecap="round"/>
<line x1="574.2" y1="1271.6" x2="593.2" y2="1271.6" stroke-width="5" stroke-linecap="round"/>
<line x1="604.3" y1="1271.6" x2="623.3" y2="1271.6" stroke-width="5" stroke-linecap="round"/>
<line x1="634.4" y1="1271.6" x2="653.4" y2="1271.6" stroke-width="5" stroke-linecap="round"/>
<line x1="664.5" y1="1271.6" x2="683.5" y2="1271.6" stroke-width="5" stroke-linecap="round"/>
<line x1="24.0" y1="1463.8" x2="42.5" y2="1463.8" stroke-width="5" stroke-linecap="round"/>
<line x1="53.6" y1="1463.8" x2="72.6" y2="1463.8" stroke-width="5" stroke-linecap="round"/>
<line x1="83.8" y1="1463.8" x2="102.8" y2="1463.8" stroke-width="5" stroke-linecap="round"/>
<line x1="113.9" y1="1463.8" x2="132.9" y2="1463.8" stroke-width="5" stroke-linecap="round"/>
<line x1="144.0" y1="1463.8" x2="163.0" y2="1463.8" stroke-width="5" stroke-linecap="round"/>
<line x1="174.2" y1="1463.8" x2="193.2" y2="1463.8" stroke-width="5" stroke-linecap="round"/>
<line x1="204.3" y1="1463.8" x2="223.3" y2="1463.8" stroke-width="5" stroke-linecap="round"/>
<line x1="234.4" y1="1463.8" x2="253.4" y2="1463.8" stroke-width="5" stroke-linecap="round"/>
<line x1="264.5" y1="1463.8" x2="283.5" y2="1463.8" stroke-width="5" stroke-linecap="round"/>
<line x1="294.7" y1="1463.8" x2="313.7" y2="1463.8" stroke-width="5" stroke-linecap="round"/>
<line x1="324.8" y1="1463.8" x2="343.8" y2="1463.8" stroke-width="5" stroke-linecap="round"/>
<line x1="354.9" y1="1463.8" x2="373.9" y2="1463.8" stroke-width="5" stroke-linecap="round"/>
<line x1="385.1" y1="1463.8" x2="404.1" y2="1463.8" stroke-width="5" stroke-linecap="round"/>
<line x1="415.2" y1="1463.8" x2="434.2" y2="1463.8" stroke-width="5" stroke-linecap="round"/>
<line x1="445.3" y1="1463.8" x2="464.3" y2="1463.8" stroke-width="5" stroke-linecap="round"/>
<line x1="475.4" y1="1463.8" x2="494.4" y2="1463.8" stroke-width="5" stroke-linecap="round"/>
<line x1="505.6" y1="1463.8" x2="524.6" y2="1463.8" stroke-width="5" stroke-linecap="round"/>
<line x1="535.7" y1="1463.8" x2="554.7" y2="1463.8" stroke-width="5" stroke-linecap="round"/>
<line x1="565.8" y1="1463.8" x2="584.8" y2="1463.8" stroke-width="5" stroke-linecap="round"/>
<line x1="596.0" y1="1463.8" x2="615.0" y2="1463.8" stroke-width="5" stroke-linecap="round"/>
<line x1="626.1" y1="1463.8" x2="645.1" y2="1463.8" stroke-width="5" stroke-linecap="round"/>
<line x1="656.2" y1="1463.8" x2="675.2" y2="1463.8" stroke-width="5" stroke-linecap="round"/>
<line x1="685.4" y1="1463.8" x2="685.4" y2="1463.8" stroke-width="5" stroke-linecap="round"/>
<line x1="24" y1="1271.6" x2="24" y2="1292.8" stroke-width="5" stroke-linecap="round"/>
<line x1="24" y1="1303.2" x2="24" y2="1324.7" stroke-width="5" stroke-linecap="round"/>
<line x1="24" y1="1335.2" x2="24" y2="1356.7" stroke-width="5" stroke-linecap="round"/>
<line x1="24" y1="1367.1" x2="24" y2="1388.6" stroke-width="5" stroke-linecap="round"/>
<line x1="24" y1="1399.1" x2="24" y2="1420.6" stroke-width="5" stroke-linecap="round"/>
<line x1="24" y1="1431.0" x2="24" y2="1452.5" stroke-width="5" stroke-linecap="round"/>
<line x1="24" y1="1462.9" x2="24" y2="1463.8" stroke-width="5" stroke-linecap="round"/>
<line x1="684.4" y1="1271.6" x2="684.4" y2="1272.2" stroke-width="5" stroke-linecap="round"/>
<line x1="684.4" y1="1282.9" x2="684.4" y2="1304.3" stroke-width="5" stroke-linecap="round"/>
<line x1="684.4" y1="1315.0" x2="684.4" y2="1336.4" stroke-width="5" stroke-linecap="round"/>
<line x1="684.4" y1="1347.1" x2="684.4" y2="1368.5" stroke-width="5" stroke-linecap="round"/>
<line x1="684.4" y1="1379.1" x2="684.4" y2="1400.5" stroke-width="5" stroke-linecap="round"/>
<line x1="684.4" y1="1411.2" x2="684.4" y2="1432.6" stroke-width="5" stroke-linecap="round"/>
<line x1="684.4" y1="1443.3" x2="684.4" y2="1463.8" stroke-width="5" stroke-linecap="round"/>
<text x="701" y="1286.3" font-size="19.5" font-weight="bold" text-anchor="start" fill="#000" stroke="none" textLength="146" lengthAdjust="spacingAndGlyphs">COMBINATION</text>
<text x="701" y="1306.6" font-size="19.5" font-weight="bold" text-anchor="start" fill="#000" stroke="none" textLength="148.4" lengthAdjust="spacingAndGlyphs">LIGHT SWITCH</text>
<line x1="180.5" y1="1272" x2="180.5" y2="1350.6" stroke-width="2.2" />
<circle cx="180.5" cy="1296" r="4.6" fill="#000" stroke="none"/>
<polyline points="180.5,1296 350.5,1296 350.5,1406" stroke-width="2.2" fill="none" />
<polygon points="350.5,1342.5 342.5,1356 358.5,1356" fill="#000" stroke="none" />
<polyline points="339.8,1335.5 344.5,1342.5 357.5,1342.5 362.5,1349.5" stroke-width="2.6" fill="none" />
<circle cx="180.5" cy="1350.6" r="4.6" fill="#000" stroke="none"/>
<circle cx="215.1" cy="1334.2" r="4.6" fill="#000" stroke="none"/>
<circle cx="252.1" cy="1350.6" r="4.6" fill="#000" stroke="none"/>
<line x1="188.6" y1="1341.5" x2="197" y2="1337" stroke-width="2.8" />
<path d="M203,1335 Q215.2,1332.5 228,1335" stroke-width="2.8" fill="none"/>
<line x1="234.5" y1="1338.5" x2="243" y2="1344" stroke-width="2.8" />
<line x1="252.1" y1="1350.6" x2="215.1" y2="1388.4" stroke-width="2.6" />
<line x1="235.5" y1="1365" x2="244.5" y2="1357" stroke-width="6" />
<circle cx="215.1" cy="1388.4" r="4.6" fill="#000" stroke="none"/>
<line x1="215.1" y1="1388.4" x2="215.1" y2="1463.5" stroke-width="2.2" />
<circle cx="215.1" cy="1406" r="4.6" fill="#000" stroke="none"/>
<polyline points="169.5,1406 638,1406.5 638,1272" stroke-width="2.2" fill="none" />
<polygon points="156,1398.5 169.5,1406 156,1413.5" fill="#000" stroke="none" />
<circle cx="350.5" cy="1406" r="4.6" fill="#000" stroke="none"/>
<polygon points="207,1427 223,1427 215.1,1438.5" fill="#000" stroke="none" />
<line x1="207" y1="1440" x2="223" y2="1440" stroke-width="2.4" />
<text x="197.8" y="1322.2" font-size="14.5" font-weight="bold" text-anchor="start" fill="#000" stroke="none" textLength="43.2" lengthAdjust="spacingAndGlyphs">PARK</text>
<text x="162.7" y="1379.6" font-size="14.5" font-weight="bold" text-anchor="start" fill="#000" stroke="none" textLength="44.1" lengthAdjust="spacingAndGlyphs">HEAD</text>
<text x="253.9" y="1375.2" font-size="14.5" font-weight="bold" text-anchor="start" fill="#000" stroke="none" textLength="29.8" lengthAdjust="spacingAndGlyphs">OFF</text>
<text x="50.2" y="1375.8" font-size="20" font-weight="normal" text-anchor="start" fill="#000" stroke="none" textLength="36.7" lengthAdjust="spacingAndGlyphs">See</text>
<text x="50.2" y="1396.8" font-size="20" font-weight="normal" text-anchor="start" fill="#000" stroke="none" textLength="88" lengthAdjust="spacingAndGlyphs">Headlight</text>
<text x="50.2" y="1417.8" font-size="20" font-weight="normal" text-anchor="start" fill="#000" stroke="none" textLength="66.5" lengthAdjust="spacingAndGlyphs">Switch,</text>
<line x1="976" y1="1166.4" x2="990" y2="1166.4" stroke-width="4.2" stroke="#fff"/>
<line x1="976" y1="1210.3" x2="990" y2="1210.3" stroke-width="4.6" stroke="#fff"/>
<text x="1020" y="1167.6" font-size="20" font-weight="normal" text-anchor="start" fill="#000" stroke="none" textLength="111" lengthAdjust="spacingAndGlyphs">See Ground</text>
<text x="1020" y="1188.7" font-size="20" font-weight="normal" text-anchor="start" fill="#000" stroke="none" textLength="109.2" lengthAdjust="spacingAndGlyphs">Distribution,</text>
<text x="934.7" y="1276.6" font-size="14.5" font-weight="bold" text-anchor="start" fill="#000" stroke="none">BLK</text>
<polyline points="983,1338 1022,1298.8 1074.5,1298.8 1074.5,1256.2" stroke-width="11.2" fill="none" stroke-linejoin="miter"/>
<line x1="1008.6" y1="1301" x2="1020.6" y2="1313" stroke-width="4.2" stroke="#fff"/>
<line x1="1051.2" y1="1290" x2="1051.2" y2="1308" stroke-width="4.9" stroke="#fff"/>
<line x1="1066" y1="1279.7" x2="1083" y2="1279.7" stroke-width="5.3" stroke="#fff"/>
<polygon points="1063.3,1235.9 1085.8,1235.9 1074.5,1255.2" fill="#000" stroke="none" />
<circle cx="982.5" cy="1338.1" r="14" fill="#fff" stroke="none"/>
<circle cx="982.5" cy="1338.1" r="8.3" fill="#000" stroke="none"/>
<line x1="968.5" y1="1346.1" x2="996.5" y2="1346.1" stroke-width="3" />
<line x1="973.0" y1="1351.8999999999999" x2="992.0" y2="1351.8999999999999" stroke-width="3" />
<line x1="977.5" y1="1357.3999999999999" x2="987.5" y2="1357.3999999999999" stroke-width="3" />
<text x="1010.8" y="1352" font-size="19" font-weight="bold" text-anchor="start" fill="#000" stroke="none" textLength="48.2" lengthAdjust="spacingAndGlyphs">G202</text>
<polygon points="880.0,1391 880.0,1393.5 877.0,1391.2 874.3,1394.8 881.0,1401.2 885.5,1402.0 890.0,1401.2 896.7,1394.8 894.0,1391.2 891.0,1393.5 891.0,1391" fill="#000" stroke="none" />
<polygon points="874.3,1405.8 877.3,1403.2 882.5,1407.2 885.5,1408 888.5,1407.2 893.7,1403.2 896.7,1405.8 891.0,1413 891.0,1415 880.0,1415 880.0,1413" fill="#000" stroke="none" />
<rect x="880.0" y="1415" width="11" height="125" fill="#000" stroke="none"/>
<text x="850.2" y="1406.8" font-size="20" font-weight="bold" text-anchor="start" fill="#000" stroke="none">8</text>
<text x="909.7" y="1407.2" font-size="20" font-weight="bold" text-anchor="start" fill="#000" stroke="none" textLength="48.7" lengthAdjust="spacingAndGlyphs">C242</text>
<text x="838.8" y="1480" font-size="14.7" font-weight="bold" text-anchor="start" fill="#000" stroke="none">PNK</text>
<text x="1093" y="1480" font-size="14.7" font-weight="bold" text-anchor="start" fill="#000" stroke="none" textLength="68.5" lengthAdjust="spacingAndGlyphs">BLK/RED</text>
<polygon points="879.9,1539 891.1,1539 896.5,1545.5 893.5,1549 885.5,1543.5 877.5,1549 874.5,1545.5" fill="#000" stroke="none" />
<polygon points="1173.4,1539 1184.6,1539 1190,1545.5 1187,1549 1179,1543.5 1171,1549 1168,1545.5" fill="#000" stroke="none" />
<line x1="894.7" y1="1546.6" x2="1167" y2="1546.6" stroke-width="2.4" stroke-dasharray="20.8 7.3" stroke-linecap="butt"/>
<text x="854.5" y="1546.5" font-size="20" font-weight="bold" text-anchor="start" fill="#000" stroke="none">7</text>
<text x="1136" y="1538" font-size="20" font-weight="bold" text-anchor="start" fill="#000" stroke="none">12</text>
<text x="1202.6" y="1547" font-size="19.5" font-weight="bold" text-anchor="start" fill="#000" stroke="none" textLength="48.7" lengthAdjust="spacingAndGlyphs">C456</text>
<line x1="829.1" y1="1559.9" x2="847.7" y2="1559.9" stroke-width="5" stroke-linecap="round"/>
<line x1="858.1" y1="1559.9" x2="876.7" y2="1559.9" stroke-width="5" stroke-linecap="round"/>
<line x1="887.1" y1="1559.9" x2="905.7" y2="1559.9" stroke-width="5" stroke-linecap="round"/>
<line x1="916.1" y1="1559.9" x2="934.7" y2="1559.9" stroke-width="5" stroke-linecap="round"/>
<line x1="945.1" y1="1559.9" x2="963.7" y2="1559.9" stroke-width="5" stroke-linecap="round"/>
<line x1="974.1" y1="1559.9" x2="992.7" y2="1559.9" stroke-width="5" stroke-linecap="round"/>
<line x1="1003.1" y1="1559.9" x2="1021.7" y2="1559.9" stroke-width="5" stroke-linecap="round"/>
<line x1="1032.1" y1="1559.9" x2="1050.7" y2="1559.9" stroke-width="5" stroke-linecap="round"/>
<line x1="1061.1" y1="1559.9" x2="1079.7" y2="1559.9" stroke-width="5" stroke-linecap="round"/>
<line x1="1090.1" y1="1559.9" x2="1108.7" y2="1559.9" stroke-width="5" stroke-linecap="round"/>
<line x1="1119.1" y1="1559.9" x2="1137.7" y2="1559.9" stroke-width="5" stroke-linecap="round"/>
<line x1="1148.1" y1="1559.9" x2="1166.7" y2="1559.9" stroke-width="5" stroke-linecap="round"/>
<line x1="1177.1" y1="1559.9" x2="1195.7" y2="1559.9" stroke-width="5" stroke-linecap="round"/>
<line x1="1206.1" y1="1559.9" x2="1224.7" y2="1559.9" stroke-width="5" stroke-linecap="round"/>
<line x1="1235.1" y1="1559.9" x2="1235.2" y2="1559.9" stroke-width="5" stroke-linecap="round"/>
<line x1="828.6" y1="1684.6" x2="829.0" y2="1684.6" stroke-width="5" stroke-linecap="round"/>
<line x1="839.2" y1="1684.6" x2="858.0" y2="1684.6" stroke-width="5" stroke-linecap="round"/>
<line x1="868.2" y1="1684.6" x2="887.0" y2="1684.6" stroke-width="5" stroke-linecap="round"/>
<line x1="897.2" y1="1684.6" x2="916.0" y2="1684.6" stroke-width="5" stroke-linecap="round"/>
<line x1="926.1" y1="1684.6" x2="944.9" y2="1684.6" stroke-width="5" stroke-linecap="round"/>
<line x1="955.1" y1="1684.6" x2="973.9" y2="1684.6" stroke-width="5" stroke-linecap="round"/>
<line x1="984.1" y1="1684.6" x2="1002.9" y2="1684.6" stroke-width="5" stroke-linecap="round"/>
<line x1="1013.1" y1="1684.6" x2="1031.9" y2="1684.6" stroke-width="5" stroke-linecap="round"/>
<line x1="1042.1" y1="1684.6" x2="1060.9" y2="1684.6" stroke-width="5" stroke-linecap="round"/>
<line x1="1071.0" y1="1684.6" x2="1089.8" y2="1684.6" stroke-width="5" stroke-linecap="round"/>
<line x1="1100.0" y1="1684.6" x2="1118.8" y2="1684.6" stroke-width="5" stroke-linecap="round"/>
<line x1="1129.0" y1="1684.6" x2="1147.8" y2="1684.6" stroke-width="5" stroke-linecap="round"/>
<line x1="1158.0" y1="1684.6" x2="1176.8" y2="1684.6" stroke-width="5" stroke-linecap="round"/>
<line x1="1187.0" y1="1684.6" x2="1205.8" y2="1684.6" stroke-width="5" stroke-linecap="round"/>
<line x1="1215.9" y1="1684.6" x2="1234.7" y2="1684.6" stroke-width="5" stroke-linecap="round"/>
<line x1="828.6" y1="1559.0" x2="828.6" y2="1559.0" stroke-width="5" stroke-linecap="round"/>
<line x1="828.6" y1="1568.1" x2="828.6" y2="1590.1" stroke-width="5" stroke-linecap="round"/>
<line x1="828.6" y1="1600.1" x2="828.6" y2="1622.1" stroke-width="5" stroke-linecap="round"/>
<line x1="828.6" y1="1632.1" x2="828.6" y2="1654.1" stroke-width="5" stroke-linecap="round"/>
<line x1="828.6" y1="1664.1" x2="828.6" y2="1684.6" stroke-width="5" stroke-linecap="round"/>
<line x1="1235.2" y1="1559.9" x2="1235.2" y2="1580.7" stroke-width="5" stroke-linecap="round"/>
<line x1="1235.2" y1="1590.9" x2="1235.2" y2="1611.9" stroke-width="5" stroke-linecap="round"/>
<line x1="1235.2" y1="1622.0" x2="1235.2" y2="1643.0" stroke-width="5" stroke-linecap="round"/>
<line x1="1235.2" y1="1653.2" x2="1235.2" y2="1674.2" stroke-width="5" stroke-linecap="round"/>
<line x1="1235.2" y1="1684.4" x2="1235.2" y2="1684.6" stroke-width="5" stroke-linecap="round"/>
<text x="807.2" y="1573.0" font-size="19.5" font-weight="bold" text-anchor="end" fill="#000" stroke="none" textLength="90.7" lengthAdjust="spacingAndGlyphs">DAYTIME</text>
<text x="807.2" y="1594.1" font-size="19.5" font-weight="bold" text-anchor="end" fill="#000" stroke="none" textLength="95.4" lengthAdjust="spacingAndGlyphs">RUNNING</text>
<text x="807.2" y="1615.2" font-size="19.5" font-weight="bold" text-anchor="end" fill="#000" stroke="none" textLength="74.6" lengthAdjust="spacingAndGlyphs">LIGHTS</text>
<text x="807.2" y="1636.3" font-size="19.5" font-weight="bold" text-anchor="end" fill="#000" stroke="none" textLength="101.6" lengthAdjust="spacingAndGlyphs">CONTROL</text>
<text x="807.2" y="1657.4" font-size="19.5" font-weight="bold" text-anchor="end" fill="#000" stroke="none" textLength="47.2" lengthAdjust="spacingAndGlyphs">UNIT</text>
<text x="864.8" y="1587" font-size="20" font-weight="normal" text-anchor="start" fill="#000" stroke="none" textLength="71.8" lengthAdjust="spacingAndGlyphs">Dimmer</text>
<text x="864.8" y="1608" font-size="20" font-weight="normal" text-anchor="start" fill="#000" stroke="none" textLength="43.5" lengthAdjust="spacingAndGlyphs">input</text>
<text x="1149.2" y="1587" font-size="20" font-weight="normal" text-anchor="start" fill="#000" stroke="none" textLength="65.2" lengthAdjust="spacingAndGlyphs">Ignition</text>
<text x="1149.2" y="1608" font-size="20" font-weight="normal" text-anchor="start" fill="#000" stroke="none" textLength="44" lengthAdjust="spacingAndGlyphs">input</text>
<rect x="209.8" y="1463.5" width="11" height="224.5" fill="#000" stroke="none"/>
<line x1="208" y1="1529.3" x2="223" y2="1529.3" stroke-width="4.4" stroke="#fff"/>
<line x1="208" y1="1573" x2="223" y2="1573" stroke-width="4.3" stroke="#fff"/>
<text x="166.8" y="1490.8" font-size="14.5" font-weight="bold" text-anchor="start" fill="#000" stroke="none">BLK</text>
<text x="166.8" y="1636.7" font-size="14.5" font-weight="bold" text-anchor="start" fill="#000" stroke="none">BLK</text>
<text x="244.8" y="1535.9" font-size="20" font-weight="normal" text-anchor="start" fill="#000" stroke="none" textLength="111" lengthAdjust="spacingAndGlyphs">See Ground</text>
<text x="244.8" y="1557.4" font-size="20" font-weight="normal" text-anchor="start" fill="#000" stroke="none" textLength="109" lengthAdjust="spacingAndGlyphs">Distribution,</text>
<polyline points="215.3,1688.6 249,1656 319.5,1656 319.5,1626.1" stroke-width="11" fill="none" stroke-linejoin="miter"/>
<line x1="260.3" y1="1648" x2="260.3" y2="1664" stroke-width="4.8" stroke="#fff"/>
<line x1="304.2" y1="1648" x2="304.2" y2="1664" stroke-width="4.6" stroke="#fff"/>
<polygon points="308.1,1604.3 331,1604.3 319.6,1623.8" fill="#000" stroke="none" />
<circle cx="215.2" cy="1688.6" r="14" fill="#fff" stroke="none"/>
<circle cx="215.2" cy="1688.6" r="8.3" fill="#000" stroke="none"/>
<line x1="201.2" y1="1696.6" x2="229.2" y2="1696.6" stroke-width="3" />
<line x1="205.7" y1="1702.3999999999999" x2="224.7" y2="1702.3999999999999" stroke-width="3" />
<line x1="210.2" y1="1707.8999999999999" x2="220.2" y2="1707.8999999999999" stroke-width="3" />
<text x="246.8" y="1690.3" font-size="19" font-weight="bold" text-anchor="start" fill="#000" stroke="none" textLength="47" lengthAdjust="spacingAndGlyphs">G401</text>
<text x="247.3" y="1708.1" font-size="14.4" font-weight="normal" text-anchor="start" fill="#000" stroke="none" font-style="italic" textLength="75.7" lengthAdjust="spacingAndGlyphs">PHOTO 46</text>
</svg></body></html>
